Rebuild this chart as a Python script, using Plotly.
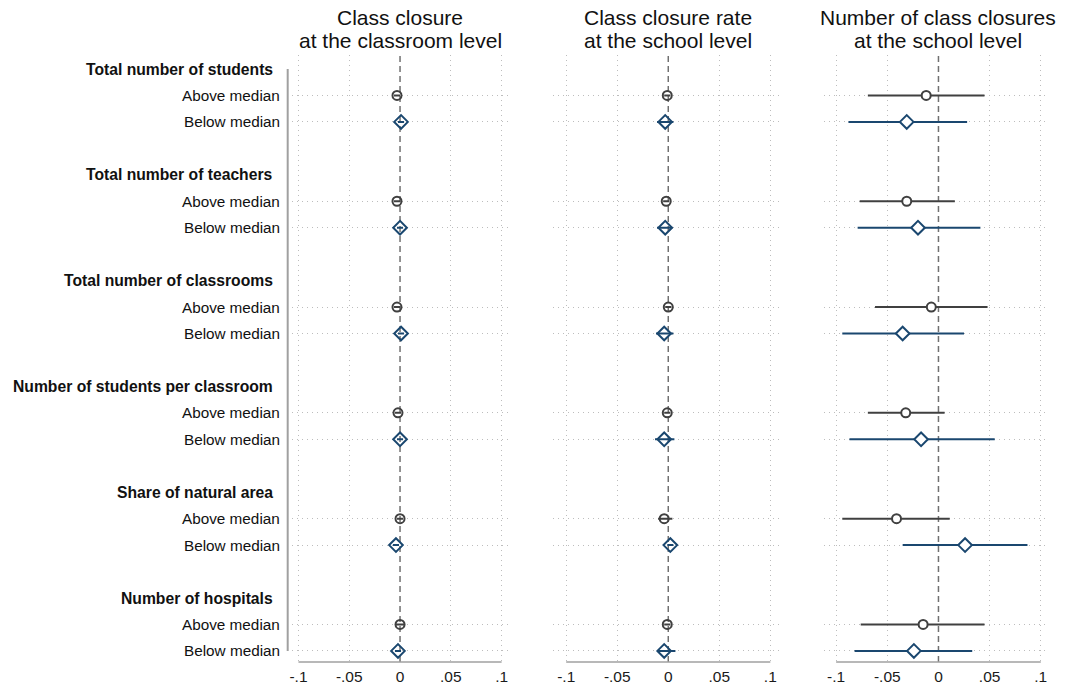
import plotly.graph_objects as go

# ---- data -------------------------------------------------------------
groups = [
    "Total number of students",
    "Total number of teachers",
    "Total number of classrooms",
    "Number of students per classroom",
    "Share of natural area",
    "Number of hospitals",
]
subgroups = ["Above median", "Below median"]

panel_titles = [
    ("Class closure", "at the classroom level"),
    ("Class closure rate", "at the school level"),
    ("Number of class closures", "at the school level"),
]

tick_vals = [-0.1, -0.05, 0, 0.05, 0.1]
tick_text = ["-.1", "-.05", "0", ".05", ".1"]

# Class closure at the classroom level
classroom_above_est = [-0.003, -0.003, -0.003, -0.002, 0.000, 0.000]
classroom_above_lo = [-0.006, -0.006, -0.006, -0.005, -0.003, -0.005]
classroom_above_hi = [0.000, 0.000, 0.000, 0.001, 0.003, 0.005]
classroom_below_est = [0.001, 0.000, 0.001, 0.000, -0.004, -0.002]
classroom_below_lo = [-0.002, -0.003, -0.002, -0.003, -0.007, -0.005]
classroom_below_hi = [0.004, 0.003, 0.004, 0.003, -0.001, 0.001]

# Class closure rate at the school level
rate_above_est = [-0.001, -0.002, 0.000, -0.001, -0.004, -0.001]
rate_above_lo = [-0.004, -0.005, -0.003, -0.004, -0.010, -0.004]
rate_above_hi = [0.002, 0.001, 0.003, 0.002, 0.004, 0.002]
rate_below_est = [-0.003, -0.003, -0.004, -0.004, 0.002, -0.004]
rate_below_lo = [-0.011, -0.011, -0.012, -0.013, -0.001, -0.011]
rate_below_hi = [0.005, 0.004, 0.005, 0.006, 0.005, 0.007]

# Number of class closures at the school level
count_above_est = [-0.012, -0.031, -0.007, -0.032, -0.041, -0.015]
count_above_lo = [-0.069, -0.077, -0.062, -0.069, -0.094, -0.076]
count_above_hi = [0.045, 0.016, 0.048, 0.006, 0.011, 0.045]
count_below_est = [-0.031, -0.020, -0.035, -0.017, 0.026, -0.024]
count_below_lo = [-0.088, -0.079, -0.094, -0.087, -0.035, -0.082]
count_below_hi = [0.028, 0.041, 0.025, 0.055, 0.087, 0.033]

panels = [
    (classroom_above_est, classroom_above_lo, classroom_above_hi,
     classroom_below_est, classroom_below_lo, classroom_below_hi),
    (rate_above_est, rate_above_lo, rate_above_hi,
     rate_below_est, rate_below_lo, rate_below_hi),
    (count_above_est, count_above_lo, count_above_hi,
     count_below_est, count_below_lo, count_below_hi),
]

# ---- layout constants -------------------------------------------------
W, H = 1067, 691
FONT = "Liberation Sans, Arial, sans-serif"
GRAY = "#404040"
NAVY = "#1a476f"
GRID = "#bdbdbd"
AXIS = "#a0a0a0"

row_top_px, row_step_px = 69.0, 26.45
plot_top_px, plot_bottom_px = 55.0, 662.0
y_range = [(plot_bottom_px - row_top_px) / row_step_px,
           (plot_top_px - row_top_px) / row_step_px]
y_domain = [1 - plot_bottom_px / H, 1 - plot_top_px / H]

# left edge, right edge, pixel of -0.1, pixel of 0.1
panel_px = [
    (290.0, 509.5, 296.3, 500.0),
    (552.0, 778.0, 564.8, 769.5),
    (823.0, 1048.0, 835.5, 1040.7),
]

header_rows = [4 * g for g in range(len(groups))]
above_rows = [4 * g + 1 for g in range(len(groups))]
below_rows = [4 * g + 2 for g in range(len(groups))]
data_rows = sorted(above_rows + below_rows)

fig = go.Figure()
shapes, annotations = [], []

for i, (ae, al, ah, be, bl, bh) in enumerate(panels):
    k = "" if i == 0 else str(i + 1)
    xa, ya = "x" + k, "y" + k
    left, right, a, b = panel_px[i]
    s = (b - a) / 0.2
    x_range = [-0.1 - (a - left) / s, 0.1 + (right - b) / s]
    fill = "white" if i == 2 else "rgba(0,0,0,0)"

    fig.add_trace(go.Scatter(
        x=ae, y=above_rows, xaxis=xa, yaxis=ya, mode="markers",
        name=subgroups[0], showlegend=False,
        marker=dict(symbol="circle", size=9, color=fill,
                    line=dict(color=GRAY, width=2)),
        error_x=dict(type="data", symmetric=False,
                     array=[h - e for h, e in zip(ah, ae)],
                     arrayminus=[e - l for e, l in zip(ae, al)],
                     color=GRAY, thickness=2, width=0),
    ))
    fig.add_trace(go.Scatter(
        x=be, y=below_rows, xaxis=xa, yaxis=ya, mode="markers",
        name=subgroups[1], showlegend=False,
        marker=dict(symbol="diamond", size=10.5, color=fill,
                    line=dict(color=NAVY, width=2)),
        error_x=dict(type="data", symmetric=False,
                     array=[h - e for h, e in zip(bh, be)],
                     arrayminus=[e - l for e, l in zip(be, bl)],
                     color=NAVY, thickness=2, width=0),
    ))

    fig.update_layout(**{
        "xaxis" + k: dict(
            domain=[left / W, right / W], range=x_range, anchor=ya,
            tickvals=tick_vals, ticktext=tick_text, showgrid=False,
            zeroline=False, showline=False, ticks="",
            ticklabelstandoff=3,
            tickfont=dict(family=FONT, size=15.5, color="#1a1a1a"),
            minor=dict(tickvals=[-0.1, -0.05, 0.05, 0.1], showgrid=True,
                       gridcolor=GRID, gridwidth=1, griddash="1px,4px",
                       ticks=""),
        ),
        "yaxis" + k: dict(
            domain=y_domain, range=y_range, anchor=xa,
            tickvals=data_rows, showticklabels=False, showgrid=True,
            gridcolor=GRID, gridwidth=1, griddash="1px,4px",
            zeroline=False, showline=False, ticks="",
        ),
    })

    # reference line at zero
    shapes.append(dict(type="line", xref=xa, yref=ya + " domain",
                       x0=0, x1=0, y0=0, y1=1,
                       line=dict(color="#707070", width=1.5, dash="6px,4px"),
                       layer="below"))
    # x axis line spanning the labelled scale
    shapes.append(dict(type="line", xref=xa, yref=ya + " domain",
                       x0=tick_vals[0], x1=tick_vals[-1], y0=0, y1=0,
                       line=dict(color=AXIS, width=1.5)))

    cx = a + (0 - (-0.1)) * s
    for j, line in enumerate(panel_titles[i]):
        annotations.append(dict(
            text=line, xref="paper", yref="paper", x=cx / W,
            y=1 - (17.5 + 23 * j) / H, xanchor="center", yanchor="middle",
            showarrow=False, font=dict(family=FONT, size=21, color="#111")))

# y axis line of the first panel
shapes.append(dict(type="line", xref="paper", yref="y",
                   x0=285.5 / W, x1=285.5 / W,
                   y0=header_rows[0], y1=below_rows[-1],
                   line=dict(color=AXIS, width=2)))

for g, name in enumerate(groups):
    annotations.append(dict(
        text="<b>" + name + "</b>", xref="paper", yref="y",
        x=272.5 / W, y=header_rows[g], xanchor="right", yanchor="middle",
        showarrow=False, font=dict(family=FONT, size=15.7, color="#111")))
    for r, sub in zip((above_rows[g], below_rows[g]), subgroups):
        annotations.append(dict(
            text=sub, xref="paper", yref="y",
            x=280 / W, y=r, xanchor="right", yanchor="middle",
            showarrow=False, font=dict(family=FONT, size=15.3, color="#111")))

fig.update_layout(
    width=W, height=H, margin=dict(l=0, r=0, t=0, b=0),
    paper_bgcolor="white", plot_bgcolor="white",
    shapes=shapes, annotations=annotations, showlegend=False,
)

fig.write_html("out.html")
